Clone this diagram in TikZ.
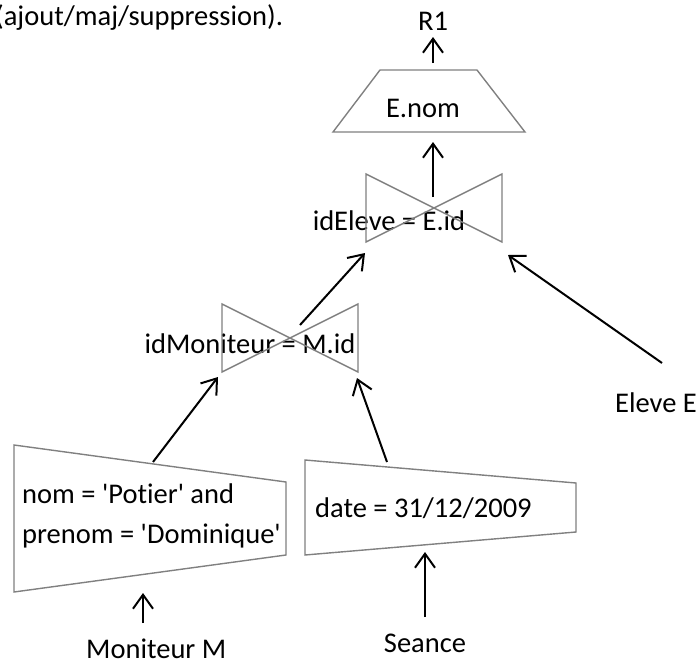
\documentclass[tikz,border=0pt]{standalone}
\usepackage{fontspec}
\setmainfont{Carlito}[Ligatures={TeXOff,NoCommon}]
\usepackage{xcolor}
\usepackage{tikz}
\usetikzlibrary{arrows.meta}

\definecolor{trait}{RGB}{128,128,128}

\begin{document}
\begin{tikzpicture}[
  x=1pt, y=-1pt,
  every node/.style = {inner sep=0pt, font=\fontsize{28.5}{40}\selectfont},
  op/.style = {draw=trait, line width=1.4pt},
  fleche/.style = {-{Straight Barb[length=14pt,width=20pt]}, line width=2pt}
]
\useasboundingbox (0,0) rectangle (697,662);

  % Noeuds (textes)
  \node[anchor=base west] (T) at (-5,25) {(ajout/maj/suppression).};
  \node[anchor=base] (R1) at (433,30) {R1};
  \node[anchor=base] (Nom) at (423,117) {E.nom};
  \node[anchor=base] (J1) at (389,230) {idEleve = E.id};
  \node[anchor=base] (J2) at (250,353) {idMoniteur = M.id};
  \node[anchor=base west] (E) at (615,412) {Eleve E};
  \node[anchor=base west, align=left] (SelM) at (22,543)
    {nom = 'Potier' and\\prenom = 'Dominique'};
  \node[anchor=base west] (SelS) at (315,517) {date = 31/12/2009};
  \node[anchor=base west] (M) at (86,658) {Moniteur M};
  \node[anchor=base] (S) at (425,652) {Seance};

  % Operateurs
  \draw[op] (380,70) -- (477,70) -- (525,132) -- (333,132) -- cycle;
  \draw[op] (366,174) -- (502,242) -- (502,174) -- (366,242) -- cycle;
  \draw[op] (222,304) -- (358,372) -- (358,304) -- (222,372) -- cycle;
  \draw[op] (14,445) -- (286,482) -- (286,555) -- (14,592) -- cycle;
  \draw[op] (305,460) -- (576,483) -- (576,532) -- (305,555) -- cycle;

  % Points des fleches
  \coordinate (a) at (433,63);   \coordinate (b) at (433,37);
  \coordinate (c) at (433,197);  \coordinate (d) at (433,142);
  \coordinate (e) at (300,325);  \coordinate (f) at (365,253);
  \coordinate (g) at (662,363);  \coordinate (h) at (508,255);
  \coordinate (i) at (153,462);  \coordinate (j) at (218,377);
  \coordinate (k) at (387,462);  \coordinate (l) at (357,378);
  \coordinate (m) at (143,623);  \coordinate (n) at (143,593);
  \coordinate (o) at (425,617);  \coordinate (p) at (425,552);

  % Fleches
  \draw[fleche] (a) -- (b);
  \draw[fleche] (c) -- (d);
  \draw[fleche] (e) -- (f);
  \draw[fleche] (g) -- (h);
  \draw[fleche] (i) -- (j);
  \draw[fleche] (k) -- (l);
  \draw[fleche] (m) -- (n);
  \draw[fleche] (o) -- (p);

\end{tikzpicture}
\end{document}
